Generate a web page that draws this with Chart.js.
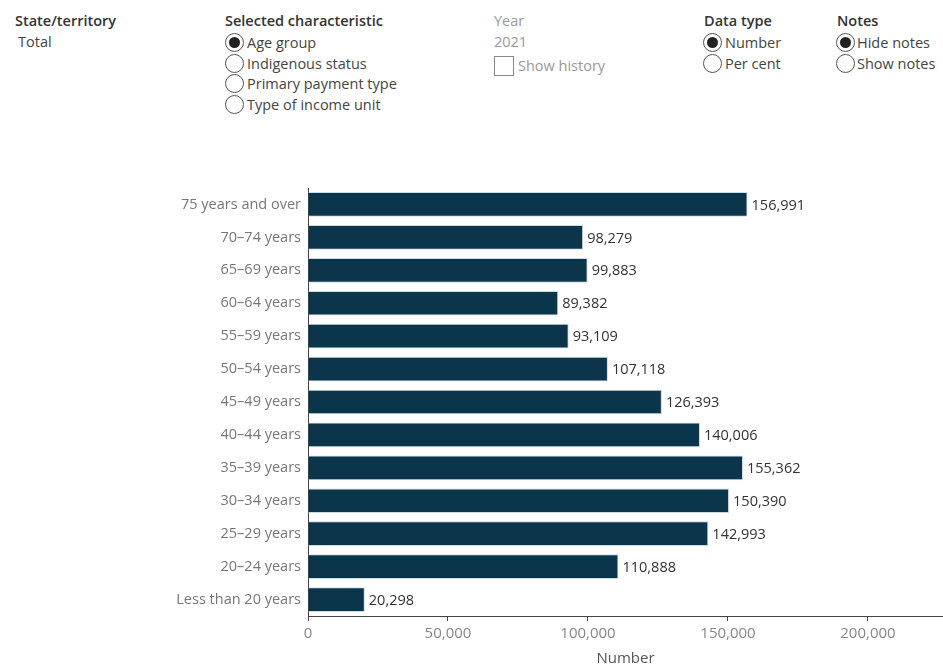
<!DOCTYPE html>
<html>
<head>
<meta charset="utf-8">
<script src="https://cdn.jsdelivr.net/npm/chart.js@4"></script>
<style>
  body { margin: 0; background: #fff; font-family: "Open Sans", sans-serif; }
  #page { position: relative; width: 943px; height: 668px; overflow: hidden; }
  .t { position: absolute; font-size: 14.5px; color: #444; white-space: nowrap; line-height: 17px; }
  .h { font-weight: 600; color: #333; }
  .g { color: #999; }
  .radio { position: absolute; width: 19px; height: 19px; border: 1px solid #555; border-radius: 50%; box-sizing: border-box; background: #fff; }
  .radio.on::after { content: ""; position: absolute; left: 3px; top: 3px; width: 11px; height: 11px; border-radius: 50%; background: #222; }
  .box { position: absolute; width: 20px; height: 20px; border: 1px solid #888; box-sizing: border-box; }
  #wrap { position: absolute; left: 150px; top: 180px; width: 793px; height: 488px; }
</style>
</head>
<body>
<div id="page">
  <div class="t h" style="left:15px;top:12px">State/territory</div>
  <div class="t" style="left:18px;top:33px">Total</div>

  <div class="t h" style="left:225px;top:12px">Selected characteristic</div>
  <div class="radio on" style="left:225px;top:33px"></div>
  <div class="t" style="left:247px;top:34px">Age group</div>
  <div class="radio" style="left:225px;top:54px"></div>
  <div class="t" style="left:247px;top:55px">Indigenous status</div>
  <div class="radio" style="left:225px;top:74px"></div>
  <div class="t" style="left:247px;top:75px">Primary payment type</div>
  <div class="radio" style="left:225px;top:95px"></div>
  <div class="t" style="left:247px;top:96px">Type of income unit</div>

  <div class="t g" style="left:494px;top:12px">Year</div>
  <div class="t g" style="left:494px;top:33px">2021</div>
  <div class="box" style="left:494px;top:56px"></div>
  <div class="t g" style="left:518px;top:57px">Show history</div>

  <div class="t h" style="left:704px;top:12px">Data type</div>
  <div class="radio on" style="left:703px;top:33px"></div>
  <div class="t" style="left:725px;top:34px">Number</div>
  <div class="radio" style="left:703px;top:54px"></div>
  <div class="t" style="left:725px;top:55px">Per cent</div>

  <div class="t h" style="left:837px;top:12px">Notes</div>
  <div class="radio on" style="left:836px;top:33px"></div>
  <div class="t" style="left:857px;top:34px">Hide notes</div>
  <div class="radio" style="left:836px;top:54px"></div>
  <div class="t" style="left:857px;top:55px">Show notes</div>

  <div id="wrap"><canvas id="ageChart"></canvas></div>
</div>
<script>
// recipients by age group, 2021
const ageGroups = [
  '75 years and over', '70–74 years', '65–69 years', '60–64 years',
  '55–59 years', '50–54 years', '45–49 years', '40–44 years',
  '35–39 years', '30–34 years', '25–29 years', '20–24 years',
  'Less than 20 years'
];
const counts = [
  156991, 98279, 99883, 89382, 93109, 107118, 126393,
  140006, 155362, 150390, 142993, 110888, 20298
];
const xTicks = [0, 50000, 100000, 150000, 200000];

const fmt = n => n.toLocaleString('en-AU');

// value labels to the right of each bar
const barLabels = {
  id: 'barLabels',
  afterDatasetsDraw(chart) {
    const ctx = chart.ctx;
    const meta = chart.getDatasetMeta(0);
    ctx.save();
    ctx.font = '14.5px "Open Sans"';
    ctx.fillStyle = '#333';
    ctx.textBaseline = 'middle';
    meta.data.forEach((bar, i) => {
      ctx.fillText(fmt(counts[i]), bar.x + 4, bar.y + 1);
    });
    ctx.restore();
  }
};

new Chart(document.getElementById('ageChart'), {
  type: 'bar',
  data: {
    labels: ageGroups,
    datasets: [{
      data: counts,
      backgroundColor: '#0b354b',
      borderColor: '#c9dbe6',
      borderWidth: 1,
      borderSkipped: 'start',
      barPercentage: 0.75,
      categoryPercentage: 1
    }]
  },
  options: {
    indexAxis: 'y',
    responsive: true,
    maintainAspectRatio: false,
    animation: false,
    layout: { padding: { top: 8, right: 0, left: 0, bottom: 0 } },
    plugins: { legend: { display: false }, tooltip: { enabled: false } },
    scales: {
      x: {
        min: 0,
        max: 226800,
        afterBuildTicks: scale => { scale.ticks = xTicks.map(v => ({ value: v })); },
        afterFit: scale => { scale.height = 52; scale.paddingLeft = 0; scale.paddingRight = 0; },
        grid: { display: true, drawOnChartArea: false, drawTicks: true, tickLength: 5, color: '#444' },
        border: { display: true, color: '#444' },
        ticks: {
          color: '#888',
          font: { family: 'Open Sans', size: 15 },
          padding: 4,
          maxRotation: 0,
          callback: v => fmt(v)
        },
        title: {
          display: true,
          text: 'Number',
          color: '#555',
          font: { family: 'Open Sans', size: 15 },
          padding: { top: 3, bottom: 0 }
        }
      },
      y: {
        afterFit: scale => { scale.width = 158; scale.paddingTop = 0; scale.paddingBottom = 0; },
        grid: { display: false, drawTicks: false },
        border: { display: true, color: '#444' },
        ticks: {
          color: '#777',
          font: { family: 'Open Sans', size: 14.5 },
          padding: 7
        }
      }
    }
  },
  plugins: [barLabels]
});
</script>
</body>
</html>
